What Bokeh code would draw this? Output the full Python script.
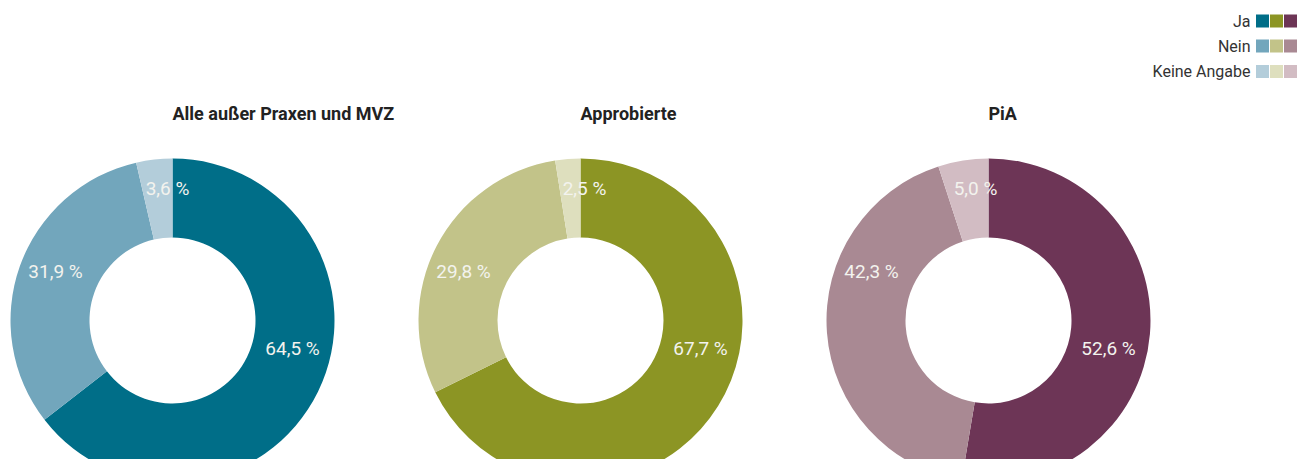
import math
from bokeh.plotting import figure
from bokeh.models import Range1d, ColumnDataSource
from bokeh.core.properties import value
from bokeh.embed import file_html
from bokeh.resources import INLINE

# ---------------- data ----------------
titles = ["Alle außer Praxen und MVZ", "Approbierte", "PiA"]
categories = ["Ja", "Nein", "Keine Angabe"]
ja = [64.5, 67.7, 52.6]
nein = [31.9, 29.8, 42.3]
keine = [3.6, 2.5, 5.0]

# ---------------- style ----------------
palettes = [
    ["#006e88", "#72a6bc", "#b3cdda"],
    ["#8c9524", "#c2c389", "#dedfbe"],
    ["#6d3556", "#a98993", "#d2bcc3"],
]
FONT = "Roboto"
W, H = 1298, 459
TOP = 475  # data y = TOP - image y

def Y(img_y):
    return TOP - img_y

centers_x = [172, 580, 988]
center_y = Y(320)
R_IN, R_OUT = 83, 162
# label offsets (dx, dy in image pixels) per category
label_off = {"Ja": (120, 28), "Nein": (-117, -49), "Keine Angabe": (0, -132)}
keine_dx = [-5, 4, -13]

p = figure(width=W, height=H, x_range=Range1d(0, W), y_range=Range1d(TOP - H, TOP),
           output_backend="svg", toolbar_location=None,
           x_axis_location=None, y_axis_location=None, min_border=0)
p.grid.visible = False
p.outline_line_color = None
p.background_fill_color = "white"
p.border_fill_color = "white"

series = [ja, nein, keine]
for i, title in enumerate(titles):
    vals = [s[i] for s in series]
    total = sum(vals)
    start = math.pi / 2
    xs, ys, sa, ea, cols = [], [], [], [], []
    lx, ly, lt = [], [], []
    for j, v in enumerate(vals):
        end = start - v / total * 2 * math.pi
        xs.append(centers_x[i]); ys.append(center_y)
        sa.append(end); ea.append(start)
        cols.append(palettes[i][j])
        start = end
        dx, dy = label_off[categories[j]]
        if categories[j] == "Keine Angabe":
            dx = keine_dx[i]
        lx.append(centers_x[i] + dx)
        ly.append(center_y - dy)
        lt.append(f"{v:.1f}".replace(".", ",") + " %")
    src = ColumnDataSource(dict(x=xs, y=ys, s=sa, e=ea, c=cols))
    p.annular_wedge(x="x", y="y", inner_radius=R_IN, outer_radius=R_OUT,
                    start_angle="s", end_angle="e", fill_color="c",
                    line_color=None, source=src)
    p.text(x=lx, y=ly, text=lt, text_align="center", text_baseline="middle",
           text_font=value(FONT), text_font_size="19px", text_color="#f3f3ee")
    p.text(x=[centers_x[i]], y=[Y(113)], text=[title], text_align="left",
           text_baseline="middle", text_font=value(FONT), text_font_size="18px",
           text_font_style="bold", text_color="#222222")

# ---------------- legend ----------------
leg_rows_y = [Y(20.5), Y(45.5), Y(71)]
for j, cat in enumerate(categories):
    p.text(x=[1250], y=[leg_rows_y[j]], text=[cat], text_align="right",
           text_baseline="middle", text_font=value(FONT), text_font_size="16px",
           text_color="#333333")
    p.rect(x=[1262, 1276, 1290], y=[leg_rows_y[j]] * 3, width=13, height=13,
           fill_color=[palettes[k][j] for k in range(3)], line_color=None)

open("out.html", "w").write(file_html(p, INLINE))
